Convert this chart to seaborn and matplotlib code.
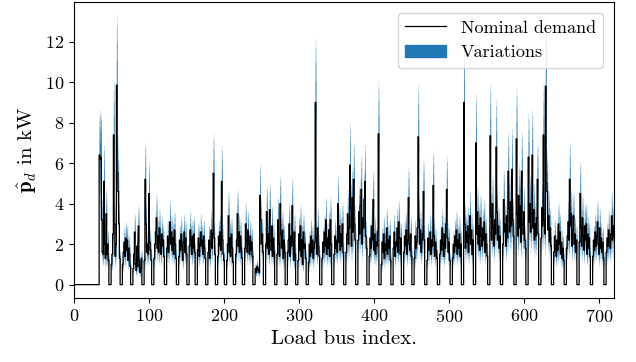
import numpy as np
import pandas as pd
import matplotlib
matplotlib.use("Agg")
import matplotlib.pyplot as plt
from matplotlib.patches import Patch
import seaborn as sns

plt.rcParams["font.family"] = "serif"
plt.rcParams["font.serif"] = ["cmr10"]
plt.rcParams["mathtext.fontset"] = "cm"
plt.rcParams["axes.formatter.use_mathtext"] = True

n_bus = 721

# first bus index of every loaded stretch (3 empty buses between stretches)
seg_start = [34, 50, 65, 79, 94, 107, 124, 140, 154, 165, 179, 192, 204, 216, 228,
             242, 256, 271, 285, 299, 313, 331, 347, 363, 379, 394, 410, 426, 440,
             454, 471, 488, 505, 520, 536, 555, 572, 590, 606, 623, 640, 657, 674,
             692, 710]

# nominal demand in kW along each stretch
seg_values = [
    [6.4, 6.2, 6.3, 3.2, 1.6, 1.5, 5.1, 2.0, 1.3, 3.5, 1.5, 2.0, 1.2],
    [1.0, 1.5, 2.5, 7.4, 3.0, 1.4, 2.0, 9.85, 5.5, 4.6, 3.0, 1.3],
    [1.0, 1.6, 2.1, 1.4, 2.3, 1.7, 2.2, 1.2, 1.8, 1.5, 0.9],
    [0.8, 1.5, 2.6, 1.0, 0.7, 1.9, 0.9, 2.9, 1.2, 0.6, 0.8, 1.3],
    [1.2, 5.2, 3.0, 1.6, 2.0, 1.5, 4.5, 2.1, 1.7, 1.2],
    [1.3, 2.0, 2.6, 3.3, 1.8, 2.4, 1.6, 2.8, 2.1, 1.5, 2.5, 1.9, 2.2, 1.4],
    [1.8, 2.4, 1.6, 2.2, 3.1, 2.0, 2.6, 1.7, 2.3, 1.5, 2.7, 2.0, 1.3],
    [1.4, 2.2, 1.7, 2.5, 1.9, 1.2, 2.1, 2.6, 1.6, 2.3, 1.5],
    [1.9, 2.7, 2.2, 1.5, 2.4, 1.8, 2.5, 1.6],
    [1.7, 2.3, 1.4, 2.0, 2.6, 1.9, 2.2, 1.5, 2.4, 1.8, 1.3],
    [1.6, 2.2, 1.3, 2.0, 2.7, 1.8, 2.5, 5.5, 2.3, 1.5],
    [1.4, 2.4, 1.9, 2.6, 1.7, 5.1, 2.2, 1.5, 1.2],
    [1.2, 2.0, 3.4, 1.6, 2.3, 1.4, 2.5, 1.8, 1.1],
    [1.5, 2.2, 3.5, 1.9, 2.6, 1.6, 2.4, 1.8, 1.3],
    [1.8, 3.0, 2.2, 1.6, 2.7, 2.0, 1.5, 2.4, 1.7, 2.1, 1.4],
    [0.8, 0.6, 0.9, 0.7, 0.8, 0.6, 4.4, 3.2, 2.0, 2.5, 1.6],
    [2.0, 3.6, 1.8, 2.5, 1.5, 3.7, 2.2, 1.7, 2.9, 1.4, 2.3, 1.6],
    [1.5, 3.2, 2.0, 1.4, 4.0, 2.5, 1.8, 2.7, 1.3, 2.2, 1.6],
    [1.6, 2.2, 3.0, 1.4, 2.4, 1.9, 3.9, 2.1, 1.2, 2.6, 1.5],
    [1.2, 2.5, 1.7, 2.9, 1.4, 2.2, 1.0, 2.6, 1.8, 2.0, 1.3],
    [1.1, 2.0, 1.4, 2.4, 1.6, 2.2, 1.3, 1.8, 2.1, 9.0, 2.3, 1.5, 2.8, 1.9, 1.4],
    [1.3, 2.1, 1.6, 2.6, 1.9, 3.2, 1.5, 2.3, 1.8, 2.7, 1.4, 3.2, 2.0],
    [1.5, 2.4, 1.8, 2.2, 1.6, 4.0, 2.1, 2.9, 1.7, 2.5, 1.9, 3.0, 1.6],
    [1.6, 2.5, 3.5, 2.0, 2.8, 5.9, 3.8, 1.9, 4.3, 2.6, 5.2, 3.0, 2.2],
    [2.2, 3.6, 2.5, 3.9, 4.7, 2.0, 3.3, 2.8, 4.2, 5.1, 2.4, 1.8],
    [1.4, 2.3, 1.8, 2.9, 2.2, 4.2, 1.7, 2.5, 1.5, 2.1, 1.9, 2.6, 7.45],
    [1.0, 2.1, 1.6, 2.5, 1.3, 2.0, 1.7, 2.8, 1.5, 2.2, 1.8, 2.4, 1.2],
    [1.8, 2.6, 1.4, 2.1, 1.9, 2.8, 1.6, 3.1, 2.3, 1.5, 2.3],
    [1.6, 2.4, 1.9, 2.7, 1.5, 2.2, 4.3, 2.0, 1.7, 2.5, 1.4],
    [1.3, 2.4, 1.8, 2.1, 2.8, 7.3, 3.2, 2.0, 2.7, 1.6, 2.2, 2.5, 4.6, 2.2],
    [1.2, 2.3, 1.7, 2.0, 2.6, 1.5, 2.2, 1.9, 4.9, 2.4, 1.4, 2.1, 1.7, 1.3],
    [1.5, 2.2, 1.7, 2.8, 2.0, 1.4, 2.5, 1.8, 3.0, 4.7, 2.3, 1.6, 2.1, 1.2],
    [1.3, 2.0, 1.6, 2.4, 1.9, 2.7, 1.5, 2.2, 1.8, 2.5, 1.4, 2.0],
    [9.0, 3.0, 1.8, 2.6, 2.1, 2.9, 1.6, 2.4, 3.4, 2.0, 2.7, 1.5, 2.2],
    [7.0, 2.5, 3.6, 2.0, 2.9, 1.7, 3.3, 2.4, 1.9, 2.8, 2.2, 3.1, 1.6, 2.5, 2.0, 1.4],
    [7.35, 3.4, 2.2, 4.0, 2.8, 1.9, 3.2, 2.5, 6.8, 3.6, 2.2, 2.9, 1.8, 2.4],
    [2.0, 4.2, 2.6, 3.0, 1.9, 3.4, 2.3, 5.6, 3.8, 2.6, 4.1, 2.9, 5.7, 3.2, 2.4],
    [7.2, 3.5, 2.4, 4.4, 2.8, 3.9, 2.1, 5.6, 3.0, 2.5, 3.6, 2.2, 1.8],
    [6.3, 3.1, 4.0, 2.6, 3.5, 6.4, 2.8, 3.7, 2.2, 3.0, 2.4, 3.3, 5.2, 2.5],
    [2.3, 3.8, 2.9, 7.4, 3.2, 2.5, 9.8, 5.0, 4.6, 2.7, 3.4, 2.1, 2.8, 1.9],
    [1.6, 2.4, 1.9, 1.4, 2.2, 1.7, 3.0, 2.0, 2.6, 1.5, 2.1, 1.3, 1.8, 1.2],
    [1.8, 2.4, 3.1, 2.2, 5.2, 2.9, 3.5, 1.9, 2.7, 3.4, 2.0, 2.5, 1.6, 2.2],
    [2.1, 4.5, 2.8, 1.9, 3.3, 2.4, 1.7, 2.9, 2.2, 3.0, 1.5, 2.5, 1.8, 2.3, 1.4],
    [1.4, 2.2, 1.7, 2.6, 1.9, 2.4, 3.1, 2.0, 1.5, 2.8, 1.8, 2.3, 1.6, 2.1, 1.3],
    [1.6, 2.3, 1.9, 2.7, 2.1, 1.8, 2.5, 3.4, 2.2, 2.9, 2.4],
]

# relative spread of the demand variations (outer to inner band) and their opacity
band_upper = [1.35, 1.30, 1.22, 1.12]
band_lower = [0.62, 0.72, 0.82, 0.91]
band_alpha = [0.25, 0.4, 0.5, 0.6]

nominal = np.zeros(n_bus)
for start, vals in zip(seg_start, seg_values):
    nominal[start:start + len(vals)] = vals

df = pd.DataFrame({"bus": np.arange(n_bus), "p": nominal})

fig, ax = plt.subplots(figsize=(6.36, 3.62), dpi=100)
fig.subplots_adjust(left=74 / 636, right=614 / 636, top=1 - 2 / 362, bottom=1 - 298 / 362)

for up, lo, a in zip(band_upper, band_lower, band_alpha):
    ax.fill_between(df["bus"], df["p"] * lo, df["p"] * up, step="mid",
                    color="C0", alpha=a, lw=0)

sns.lineplot(data=df, x="bus", y="p", color="black", lw=0.9, estimator=None,
             drawstyle="steps-mid", ax=ax)

ax.set_xlim(0, 720)
ax.set_ylim(-0.66, 13.96)
ax.set_xticks(range(0, 701, 100))
ax.set_yticks(range(0, 13, 2))
ax.tick_params(labelsize=13)
ax.set_xlabel("Load bus index.", fontsize=15)
ax.set_ylabel(r"$\hat{\mathbf{p}}_d$ in kW", fontsize=15)

handles = [plt.Line2D([], [], color="black", lw=0.9), Patch(color="C0")]
ax.legend(handles, ["Nominal demand", "Variations"], loc="upper right",
          fontsize=13, handlelength=2.3, borderaxespad=0.6)

fig.savefig("out.png", dpi=100)
